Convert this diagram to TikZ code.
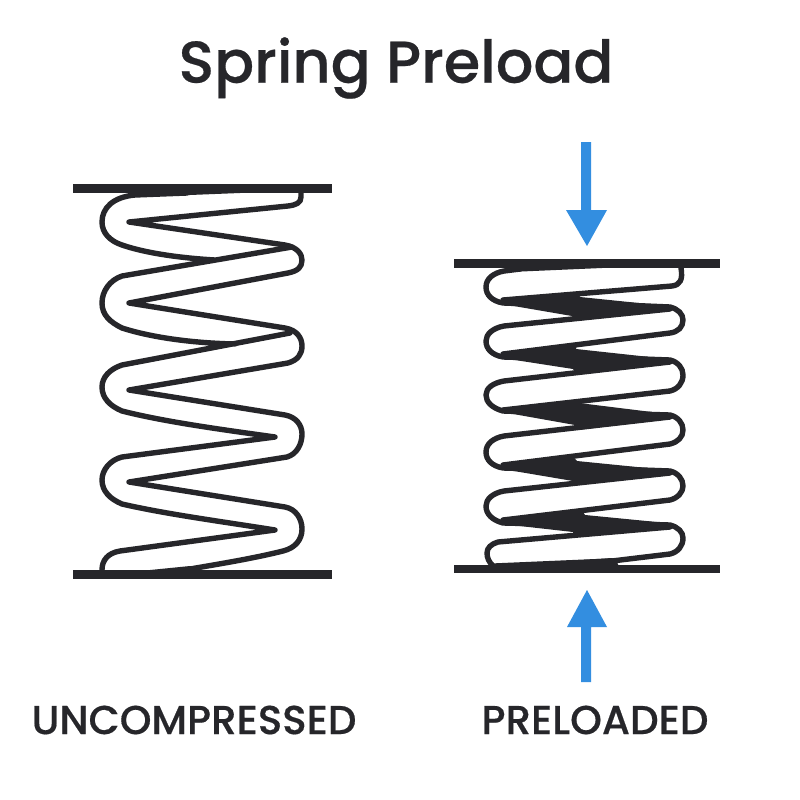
\documentclass[tikz,border=0pt]{standalone}
\usepackage{fontspec}
\setmainfont{Poppins Medium}[FakeBold=0.4]
\definecolor{ink}{HTML}{26262A}
\definecolor{arrowblue}{HTML}{338EE0}
\tikzset{
  plate/.style={fill=ink,draw=none},
  coil/.style={draw=ink,line width=5.4pt,line join=round,line cap=round},
  web/.style={fill=ink,draw=none},
  push/.style={fill=arrowblue,draw=none},
  lab/.style={text=ink,inner sep=0pt,anchor=center}
}
\begin{document}
\begin{tikzpicture}[x=1pt,y=-1pt]
\useasboundingbox (0,0) rectangle (800,800);
\fill[white] (0,0) rectangle (800,800);
\node[lab,font=\fontsize{59}{66}\selectfont] (title) at (396,68) {Spring Preload};
\node[lab,font=\fontsize{40.4}{46}\selectfont] (lefttext) at (194,720) {UNCOMPRESSED};
\node[lab,font=\fontsize{40.4}{46}\selectfont] (righttext) at (595,720) {PRELOADED};
% plates
\fill[plate] (73,184) rectangle (332,193);
\fill[plate] (73,570) rectangle (332,579);
\fill[plate] (454,259) rectangle (720,268);
\fill[plate] (454,565) rectangle (720,573);
% left spring: right-hand wave
\draw[coil] (301,192) -- (301,197) .. controls (301,203) and (296,205) .. (288,206)
  -- (129,222) -- (285,245) .. controls (297,247) and (302,254) .. (302,260)
  .. controls (302,267) and (298,271) .. (288,273) -- (129,303) -- (285,328)
  .. controls (297,330) and (302,338) .. (302,346) .. controls (302,354) and (298,360) .. (288,363)
  -- (129,390) -- (285,415) .. controls (296,417) and (302,425) .. (302,434)
  .. controls (302,444) and (297,454) .. (287,457) -- (129,482) -- (285,507)
  .. controls (296,509) and (302,519) .. (302,529) .. controls (302,540) and (295,548) .. (283,551)
  .. controls (255,558) and (225,563) .. (190,569);
% left spring: left-hand wave
\draw[coil] (187,193) -- (135,195) .. controls (113,197) and (102,208) .. (102,222)
  .. controls (102,233) and (110,241) .. (122,245) .. controls (145,253) and (180,258) .. (215,260)
  (292,247) -- (122,276)
  .. controls (110,280) and (102,291) .. (102,303) .. controls (102,315) and (110,322) .. (122,328)
  .. controls (150,337) and (190,343) .. (235,344)
  (290,333) -- (122,365)
  .. controls (110,369) and (102,377) .. (102,387) .. controls (102,398) and (110,406) .. (122,411)
  .. controls (165,422) and (225,430) .. (275,437) -- (122,457)
  .. controls (110,460) and (102,470) .. (102,480) .. controls (102,491) and (110,499) .. (122,504)
  .. controls (165,514) and (225,522) .. (275,530) -- (120,551)
  .. controls (108,553) and (102,560) .. (102,570);
\fill[web] (187,193) -- (240,193) -- (165,196) -- cycle;
\fill[web] (150,570) -- (190,566) -- (192,570) -- cycle;
% right spring: outline
\draw[coil] (681,268) .. controls (683,280) and (680,285) .. (672,286) -- (503,300)
  -- (670,307) .. controls (678,309) and (683,314) .. (683,320) .. controls (683,327) and (678,332) .. (670,333)
  -- (503,354) -- (670,360) .. controls (678,362) and (683,368) .. (683,375) .. controls (683,383) and (678,389) .. (670,391)
  -- (503,410) -- (670,415) .. controls (678,417) and (683,423) .. (683,430) .. controls (683,437) and (678,442) .. (670,444)
  -- (503,465) -- (670,471) .. controls (678,473) and (683,479) .. (683,486) .. controls (683,492) and (678,498) .. (670,500)
  -- (503,520) -- (670,525) .. controls (678,527) and (683,532) .. (683,538) .. controls (683,546) and (678,552) .. (670,554)
  -- (612,561) -- (495,566);
\draw[coil] (520,269) -- (504,271) .. controls (493,273) and (486,279) .. (486,287)
  .. controls (486,295) and (492,301) .. (503,303) -- (670,309) -- (504,326)
  .. controls (493,328) and (486,334) .. (486,341) .. controls (486,349) and (492,355) .. (503,357)
  -- (670,362) -- (504,381) .. controls (493,383) and (486,388) .. (486,395) .. controls (486,402) and (492,408) .. (503,411)
  -- (670,417) -- (504,436) .. controls (493,438) and (486,444) .. (486,452) .. controls (486,460) and (492,466) .. (503,468)
  -- (670,473) -- (504,491) .. controls (493,493) and (486,499) .. (486,506) .. controls (486,514) and (492,520) .. (503,523)
  -- (670,527) -- (498,542) .. controls (491,544) and (487,548) .. (487,553) .. controls (487,558) and (489,562) .. (493,566);
% right spring: solid wedges
\fill[web] (508,268) -- (602,268) -- (510,272) -- cycle;
\fill[web] (502,298) -- (578,292) -- (580,297) -- (668,306) -- (670,310) -- (575,321) -- (572,316) -- (502,304) -- cycle;
\fill[web] (502,352) -- (577,345) -- (576,349) -- (668,359) -- (668,363) -- (575,373) -- (573,369) -- (502,358) -- cycle;
\fill[web] (502,408) -- (578,400) -- (579,403) -- (668,414) -- (668,419) -- (577,430) -- (575,425) -- (502,412) -- cycle;
\fill[web] (502,463) -- (573,457) -- (577,461) -- (667,470) -- (667,475) -- (575,485) -- (573,481) -- (502,469) -- cycle;
\fill[web] (502,518) -- (583,512) -- (585,515) -- (667,523) -- (667,528) -- (573,537) -- (573,532) -- (502,524) -- cycle;
\fill[web] (495,566) -- (612,558) -- (618,564) -- (618,566) -- cycle;
% arrows
\fill[push] (581,142) -- (591,142) -- (591,210) -- (607,210) -- (587,246) -- (566,210) -- (581,210) -- cycle;
\fill[push] (581,682) -- (591,682) -- (591,627) -- (607,627) -- (587,590) -- (567,627) -- (581,627) -- cycle;
\end{tikzpicture}
\end{document}
